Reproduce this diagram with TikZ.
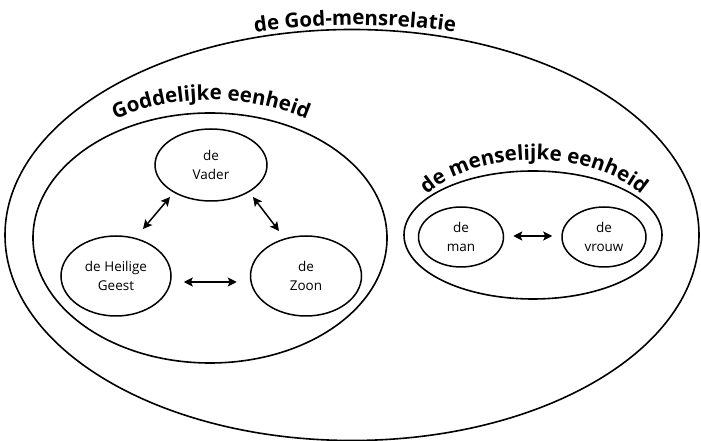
\documentclass[tikz,border=0pt]{standalone}
\usepackage{fontspec}
\setmainfont{Open Sans}
\usetikzlibrary{shapes.geometric,arrows.meta,decorations.text,calc}
\begin{document}
\begin{tikzpicture}[x=1pt,y=1pt,
  ring/.style={ellipse, draw, line width=1.6pt, inner sep=0pt},
  person/.style={ellipse, draw, line width=1.5pt, inner sep=0pt, align=center,
    font=\fontsize{13.5}{19}\selectfont},
  tip/.tip={Stealth[length=9pt,width=9pt,inset=1.8pt]},
  arr/.style={line width=1.5pt, tip-tip},
  curvy/.style={decorate, decoration={text along path, text align=center,
    text={|\bfseries\fontsize{20.5}{20.5}\selectfont|#1}}}]
\useasboundingbox (0,0) rectangle (701,441);
% containers
\node[ring, minimum width=694pt, minimum height=411pt] (world) at (352,206) {};
\node[ring, minimum width=354pt, minimum height=250pt] (god) at (210,203) {};
\node[ring, minimum width=258pt, minimum height=128pt] (mens) at (533,206) {};
% persons
\node[person, minimum width=112pt, minimum height=72pt] (vader) at (211,276) {de\\Vader};
\node[person, minimum width=110pt, minimum height=80pt] (geest) at (116,165) {de Heilige\\Geest};
\node[person, minimum width=111pt, minimum height=80pt] (zoon) at (306,165) {de\\Zoon};
\node[person, minimum width=85pt, minimum height=60pt] (man) at (461,204) {de\\man};
\node[person, minimum width=84pt, minimum height=60pt] (vrouw) at (604,204) {de\\vrouw};
% arrows
\draw[arr] ($(vader)+(-41,-32)$) -- ($(geest)+(27,47)$);
\draw[arr] ($(vader)+(42,-32)$) -- ($(zoon)+(-27,45)$);
\draw[arr] ($(geest.east)+(12,-6)$) -- ($(zoon.west)+(-13,-6)$);
\draw[arr] ($(man.east)+(9,1)$) -- ($(vrouw.west)+(-9,1)$);
% curved labels
\path[curvy={de God-mensrelatie}] ($(355,-284)+(103:700)$) arc[start angle=103, end angle=77, radius=700];
\path[curvy={Goddelijke eenheid}] ($(211,93)+(125:248)$) arc[start angle=125, end angle=55, radius=248];
\path[curvy={de menselijke eenheid}] ($(534,199)+(170:132 and 82)$) arc[start angle=170, end angle=10, x radius=132, y radius=82];
\end{tikzpicture}
\end{document}
